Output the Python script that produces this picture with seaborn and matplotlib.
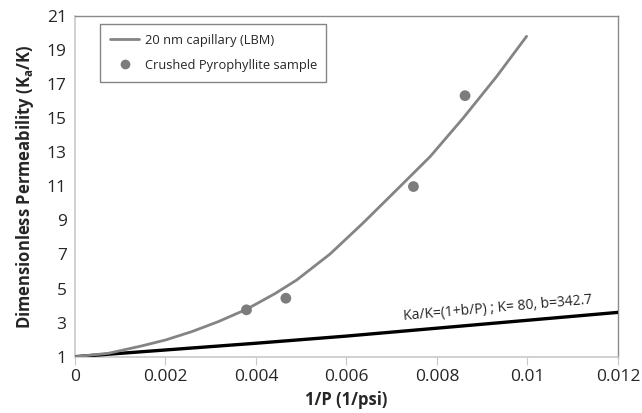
import numpy as np
import pandas as pd
import matplotlib
matplotlib.use("Agg")
import matplotlib.pyplot as plt
import seaborn as sns
from matplotlib.lines import Line2D

# ---- data ----
lbm_x = [0.0, 0.00074, 0.00147, 0.002, 0.00258, 0.00317, 0.00379, 0.00442,
         0.0049, 0.00564, 0.00637, 0.00711, 0.00785, 0.00858, 0.00932, 0.00998]
lbm_y = [1.0, 1.2, 1.63, 1.98, 2.47, 3.06, 3.78, 4.7,
         5.5, 7.03, 8.85, 10.79, 12.74, 15.0, 17.44, 19.79]

sample_x = [0.00379, 0.00466, 0.00748, 0.00862]
sample_y = [3.75, 4.43, 10.98, 16.31]

klink_x = [0.0, 0.004, 0.006, 0.012]
klink_y = [1.0, 1.79, 2.21, 3.6]

xticks = [0, 0.002, 0.004, 0.006, 0.008, 0.01, 0.012]
xticklabels = ["0", "0.002", "0.004", "0.006", "0.008", "0.01", "0.012"]
yticks = [1, 3, 5, 7, 9, 11, 13, 15, 17, 19, 21]

sns.set_style("white")
plt.rcParams["font.family"] = ["Open Sans", "DejaVu Sans"]

fig = plt.figure(figsize=(6.42, 4.13), dpi=100)
ax = fig.add_axes([0.1168, 0.1363, 0.9626 - 0.1168, 0.962 - 0.1363])

df_lbm = pd.DataFrame({"x": lbm_x, "y": lbm_y})
df_s = pd.DataFrame({"x": sample_x, "y": sample_y})
df_k = pd.DataFrame({"x": klink_x, "y": klink_y})

sns.lineplot(data=df_k, x="x", y="y", ax=ax, color="black", linewidth=2.4, zorder=3)
sns.lineplot(data=df_lbm, x="x", y="y", ax=ax, color="#848484", linewidth=2.0, zorder=4)
sns.scatterplot(data=df_s, x="x", y="y", ax=ax, color="#7c7c7c", s=60, edgecolor="none", zorder=5)

ax.set_xlim(0, 0.012)
ax.set_ylim(1, 21)
ax.set_xticks(xticks)
ax.set_xticklabels(xticklabels)
ax.set_yticks(yticks)
ax.tick_params(axis="x", direction="out", length=6, color="#c8c8c8", labelsize=12.5, pad=3)
ax.tick_params(axis="y", direction="out", length=0, labelsize=12.5, pad=6)
ax.tick_params(bottom=True, left=False)

for side in ["left", "bottom"]:
    ax.spines[side].set_color("#c8c8c8")
    ax.spines[side].set_linewidth(1.2)
for side in ["top", "right"]:
    ax.spines[side].set_color("#8a8a8a")
    ax.spines[side].set_linewidth(1.0)

ax.set_xlabel("1/P (1/psi)", fontsize=12, fontweight="bold", labelpad=4)
ax.set_ylabel(r"Dimensionless Permeability (K$_\mathregular{a}$/K)", fontsize=12, fontweight="bold", labelpad=8)

ax.text(0.00935, 3.85, "Ka/K=(1+b/P) ; K= 80, b=342.7", rotation=5, ha="center", va="center", fontsize=10)

handles = [
    Line2D([0], [0], color="#848484", linewidth=2.0),
    Line2D([0], [0], marker="o", color="none", markerfacecolor="#7c7c7c", markeredgecolor="none", markersize=7),
]
leg = ax.legend(handles, ["20 nm capillary (LBM)", "Crushed Pyrophyllite sample"],
                loc="upper left", bbox_to_anchor=(0.046, 0.976), borderaxespad=0, fontsize=9.3,
                frameon=True, fancybox=False, edgecolor="#666666", borderpad=0.75,
                labelspacing=0.95, handlelength=2.3, handletextpad=0.4)
leg.get_frame().set_linewidth(1.0)

fig.savefig("out.png", dpi=100)
